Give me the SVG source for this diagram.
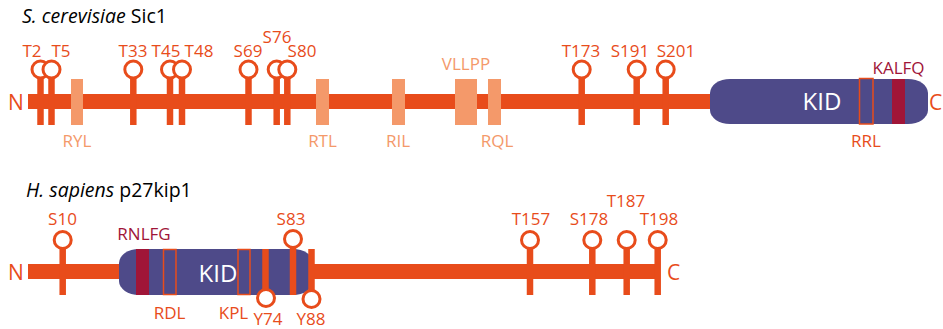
<svg xmlns="http://www.w3.org/2000/svg" width="943" height="329" viewBox="0 0 943 329">
<style>
text{font-family:"Open Sans","Liberation Sans",sans-serif}
.title{font-size:19.5px;fill:#000}
.site{font-size:17px;fill:#E84C1B;text-anchor:middle}
.motif{font-size:17px;fill:#F4996A;text-anchor:middle}
.motifo{font-size:17px;fill:#E84C1B;text-anchor:middle}
.motifr{font-size:17px;fill:#A01538;text-anchor:middle}
.term{font-size:21px;fill:#E84C1B}
.kid{font-size:24px;fill:#FFFFFF;text-anchor:middle}
.bar{fill:#E84C1B}
.stick{stroke:#E84C1B;stroke-width:6.5}
.head{fill:#fff;stroke:#E84C1B;stroke-width:3}
.lbox{fill:#F4996A}
.obox{fill:none;stroke:#E84C1B;stroke-width:1.5}
.rbox{fill:#A01538}
.dom{fill:#4E4A89}
</style>

<g id="sic1">
  <text class="title" x="22" y="23"><tspan font-style="italic">S. cerevisiae</tspan> Sic1</text>
  <text class="term" x="8" y="110">N</text>
  <text class="term" x="929" y="110">C</text>
  <rect class="bar" x="28" y="94" width="686" height="15"/>
  <g id="sic1-motifs">
    <rect class="lbox" x="71" y="79" width="12" height="46"/>
    <rect class="lbox" x="316" y="79" width="13" height="46"/>
    <rect class="lbox" x="392" y="79" width="13" height="46"/>
    <rect class="lbox" x="455" y="79" width="22" height="46"/>
    <rect class="lbox" x="488" y="79" width="13" height="46"/>
    <text class="motif" x="77" y="147">RYL</text>
    <text class="motif" x="322.5" y="147">RTL</text>
    <text class="motif" x="398" y="147">RIL</text>
    <text class="motif" x="466" y="70">VLLPP</text>
    <text class="motif" x="497" y="147">RQL</text>
  </g>
  <g id="sic1-kid">
    <rect class="dom" x="710" y="79" width="218" height="45" rx="20" ry="14"/>
    <text class="kid" x="822" y="110">KID</text>
    <rect class="obox" x="859.5" y="78.5" width="13.5" height="45.5"/>
    <rect class="rbox" x="892" y="79" width="13" height="45"/>
    <text class="motifo" x="866" y="147">RRL</text>
    <text class="motifr" x="898.5" y="74">KALFQ</text>
  </g>
  <g id="sic1-sites">
    <line class="stick" x1="40.5" y1="78" x2="40.5" y2="125"/>
    <circle class="head" cx="40.5" cy="69.5" r="8.5"/>
    <line class="stick" x1="51.5" y1="78" x2="51.5" y2="125"/>
    <circle class="head" cx="51.5" cy="69.5" r="8.5"/>
    <line class="stick" x1="133.3" y1="78" x2="133.3" y2="125"/>
    <circle class="head" cx="133.3" cy="69.5" r="8.5"/>
    <line class="stick" x1="170" y1="78" x2="170" y2="125"/>
    <circle class="head" cx="170" cy="69.5" r="8.5"/>
    <line class="stick" x1="182" y1="78" x2="182" y2="125"/>
    <circle class="head" cx="182" cy="69.5" r="8.5"/>
    <line class="stick" x1="248.5" y1="78" x2="248.5" y2="125"/>
    <circle class="head" cx="248.5" cy="69.5" r="8.5"/>
    <line class="stick" x1="276.7" y1="78" x2="276.7" y2="125"/>
    <circle class="head" cx="276.7" cy="69.5" r="8.5"/>
    <line class="stick" x1="287.3" y1="78" x2="287.3" y2="125"/>
    <circle class="head" cx="287.3" cy="69.5" r="8.5"/>
    <line class="stick" x1="581.7" y1="78" x2="581.7" y2="125"/>
    <circle class="head" cx="581.7" cy="69.5" r="8.5"/>
    <line class="stick" x1="636.7" y1="78" x2="636.7" y2="125"/>
    <circle class="head" cx="636.7" cy="69.5" r="8.5"/>
    <line class="stick" x1="665.7" y1="78" x2="665.7" y2="125"/>
    <circle class="head" cx="665.7" cy="69.5" r="8.5"/>
    <text class="site" x="32" y="57">T2</text>
    <text class="site" x="61" y="57">T5</text>
    <text class="site" x="133" y="57">T33</text>
    <text class="site" x="166" y="57">T45</text>
    <text class="site" x="199" y="57">T48</text>
    <text class="site" x="248" y="57">S69</text>
    <text class="site" x="277" y="43">S76</text>
    <text class="site" x="302" y="57">S80</text>
    <text class="site" x="581" y="57">T173</text>
    <text class="site" x="630" y="57">S191</text>
    <text class="site" x="676" y="57">S201</text>
  </g>
</g>

<g id="p27">
  <text class="title" x="26" y="197"><tspan font-style="italic">H. sapiens</tspan> p27kip1</text>
  <text class="term" x="8" y="280">N</text>
  <text class="term" x="667" y="280">C</text>
  <rect class="bar" x="28" y="264" width="632" height="15"/>
  <g id="p27-kid">
    <rect class="dom" x="119" y="249" width="194" height="46" rx="20" ry="14"/>
    <rect class="rbox" x="136" y="249" width="13" height="46"/>
    <rect class="obox" x="163.5" y="249.5" width="12.5" height="45"/>
    <rect class="obox" x="238" y="249.5" width="12" height="45"/>
    <text class="kid" x="218" y="282">KID</text>
    <text class="motifr" x="144" y="240">RNLFG</text>
    <text class="motifo" x="169.5" y="319">RDL</text>
    <text class="motifo" x="233.5" y="319">KPL</text>
  </g>
  <g id="p27-sites">
    <line class="stick" x1="62.7" y1="248" x2="62.7" y2="295"/>
    <circle class="head" cx="62.7" cy="240" r="8.5"/>
    <line class="stick" x1="265.5" y1="249" x2="265.5" y2="290"/>
    <circle class="head" cx="266" cy="298" r="8.5"/>
    <line class="stick" x1="293" y1="247" x2="293" y2="295"/>
    <circle class="head" cx="293" cy="239" r="8.5"/>
    <line class="stick" x1="311.5" y1="249" x2="311.5" y2="291"/>
    <circle class="head" cx="311.5" cy="299" r="8.5"/>
    <line class="stick" x1="530" y1="248" x2="530" y2="295"/>
    <circle class="head" cx="530" cy="240" r="8.5"/>
    <line class="stick" x1="592.3" y1="248" x2="592.3" y2="295"/>
    <circle class="head" cx="592.3" cy="240" r="8.5"/>
    <line class="stick" x1="626.7" y1="248" x2="626.7" y2="295"/>
    <circle class="head" cx="626.7" cy="240" r="8.5"/>
    <line class="stick" x1="657.7" y1="248" x2="657.7" y2="295"/>
    <circle class="head" cx="657.7" cy="240" r="8.5"/>
    <text class="site" x="62.5" y="225">S10</text>
    <text class="site" x="268" y="325">Y74</text>
    <text class="site" x="291" y="225">S83</text>
    <text class="site" x="311" y="325">Y88</text>
    <text class="site" x="531" y="225">T157</text>
    <text class="site" x="589" y="225">S178</text>
    <text class="site" x="626" y="207">T187</text>
    <text class="site" x="659" y="225">T198</text>
  </g>
</g>
</svg>
